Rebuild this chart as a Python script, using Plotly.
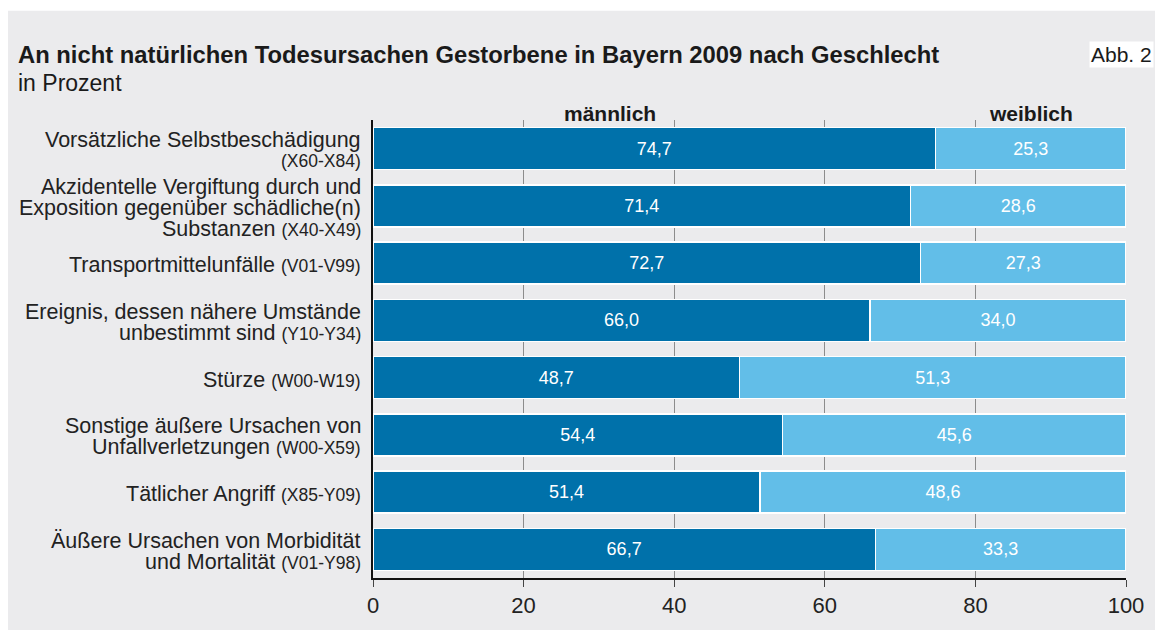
import plotly.graph_objects as go

# Anteile (in Prozent) nach Geschlecht
names = [
    ["Vorsätzliche Selbstbeschädigung", ""],
    ["Akzidentelle Vergiftung durch und", "Exposition gegenüber schädliche(n)", "Substanzen"],
    ["Transportmittelunfälle"],
    ["Ereignis, dessen nähere Umstände", "unbestimmt sind"],
    ["Stürze"],
    ["Sonstige äußere Ursachen von", "Unfallverletzungen"],
    ["Tätlicher Angriff"],
    ["Äußere Ursachen von Morbidität", "und Mortalität"],
]
codes = ["(X60-X84)", "(X40-X49)", "(V01-V99)", "(Y10-Y34)",
         "(W00-W19)", "(W00-X59)", "(X85-Y09)", "(V01-Y98)"]
maennlich = [74.7, 71.4, 72.7, 66.0, 48.7, 54.4, 51.4, 66.7]
weiblich = [25.3, 28.6, 27.3, 34.0, 51.3, 45.6, 48.6, 33.3]
x_ticks = [0, 20, 40, 60, 80, 100]

# page has an 8px body margin, so the figure is drawn 8px smaller
OFF = 8
W, H = 1168 - OFF, 630 - OFF
X0, X1, Y0, Y1 = 373, 1126, 120, 581  # plot area in page pixels
BG = "#ebebed"
DARK = "#0071aa"
LIGHT = "#62bee8"
FONT = "Liberation Sans, Arial, sans-serif"


def px(x):
    return (x - X0) / (X1 - X0)


def py(y):
    return (Y1 - y) / (Y1 - Y0)


def fmt(v):
    return f"{v:.1f}".replace(".", ",")


fig = go.Figure()
fig.add_trace(go.Bar(
    y=codes, x=maennlich, orientation="h", name="männlich",
    marker=dict(color=DARK, line=dict(color="white", width=1.5)),
    text=[fmt(v) for v in maennlich], textposition="inside",
    insidetextanchor="middle", textangle=0, constraintext="none",
    textfont=dict(family=FONT, size=18, color="white"),
))
fig.add_trace(go.Bar(
    y=codes, x=weiblich, orientation="h", name="weiblich",
    marker=dict(color=LIGHT, line=dict(color="white", width=1.5)),
    text=[fmt(v) for v in weiblich], textposition="inside",
    insidetextanchor="middle", textangle=0, constraintext="none",
    textfont=dict(family=FONT, size=18, color="white"),
))

# Kategorienbeschriftung, zeilenweise
annotations = []
LINE = 21
for lines, code in zip(names, codes):
    lines = list(lines)
    small = f"<span style='font-size:17.5px'>{code}</span>"
    lines[-1] = (lines[-1] + " " + small).strip()
    n = len(lines)
    for i, txt in enumerate(lines):
        annotations.append(dict(
            x=0, y=code, xref="paper", yref="y", text=txt, showarrow=False,
            xanchor="right", yanchor="middle", xshift=-10,
            yshift=-(i - (n - 1) / 2) * LINE - 2,
            font=dict(family=FONT, size=21.5, color="#222"),
        ))

annotations += [
    dict(x=px(16), y=py(54), xref="paper", yref="paper", xanchor="left", yanchor="middle",
         text="<b>An nicht natürlichen Todesursachen Gestorbene in Bayern 2009 nach Geschlecht</b>",
         showarrow=False, font=dict(family=FONT, size=23.8, color="#1a1a1a")),
    dict(x=px(16), y=py(83), xref="paper", yref="paper", xanchor="left", yanchor="middle",
         text="in Prozent", showarrow=False, font=dict(family=FONT, size=23, color="#1a1a1a")),
    dict(x=px(1154), y=py(54), xref="paper", yref="paper", xanchor="right", yanchor="middle",
         text="Abb. 2", showarrow=False, bgcolor="white", borderpad=1,
         font=dict(family=FONT, size=21, color="#1a1a1a")),
    dict(x=px(610), y=py(113), xref="paper", yref="paper", xanchor="center", yanchor="middle",
         text="<b>männlich</b>", showarrow=False, font=dict(family=FONT, size=21, color="#1a1a1a")),
    dict(x=px(1031), y=py(113), xref="paper", yref="paper", xanchor="center", yanchor="middle",
         text="<b>weiblich</b>", showarrow=False, font=dict(family=FONT, size=21, color="#1a1a1a")),
]

fig.update_layout(
    width=W, height=H,
    margin=dict(l=X0 - OFF, r=1168 - X1, t=Y0 - OFF, b=630 - Y1, pad=0),
    barmode="stack", bargap=0.27,
    showlegend=False,
    paper_bgcolor="white", plot_bgcolor=BG,
    font=dict(family=FONT, color="#222"),
    annotations=annotations,
    shapes=[dict(type="rect", xref="paper", yref="paper", layer="below",
                 x0=px(0), x1=px(1155), y0=py(640), y1=py(10),
                 fillcolor=BG, line=dict(width=0))],
    xaxis=dict(
        range=[0, 100], tickvals=x_ticks, ticktext=[str(t) for t in x_ticks],
        showgrid=True, gridcolor="#8c8c8c", gridwidth=1, zeroline=False,
        showline=True, linecolor="#111", linewidth=1.5,
        ticks="outside", ticklen=7, tickcolor="#444", tickwidth=1,
        tickfont=dict(family=FONT, size=22, color="#222"),
    ),
    yaxis=dict(
        categoryorder="array", categoryarray=codes, autorange="reversed",
        showticklabels=False, showgrid=False, zeroline=False,
        showline=True, linecolor="#111", linewidth=1.5, ticks="",
    ),
)

fig.write_html("out.html")
